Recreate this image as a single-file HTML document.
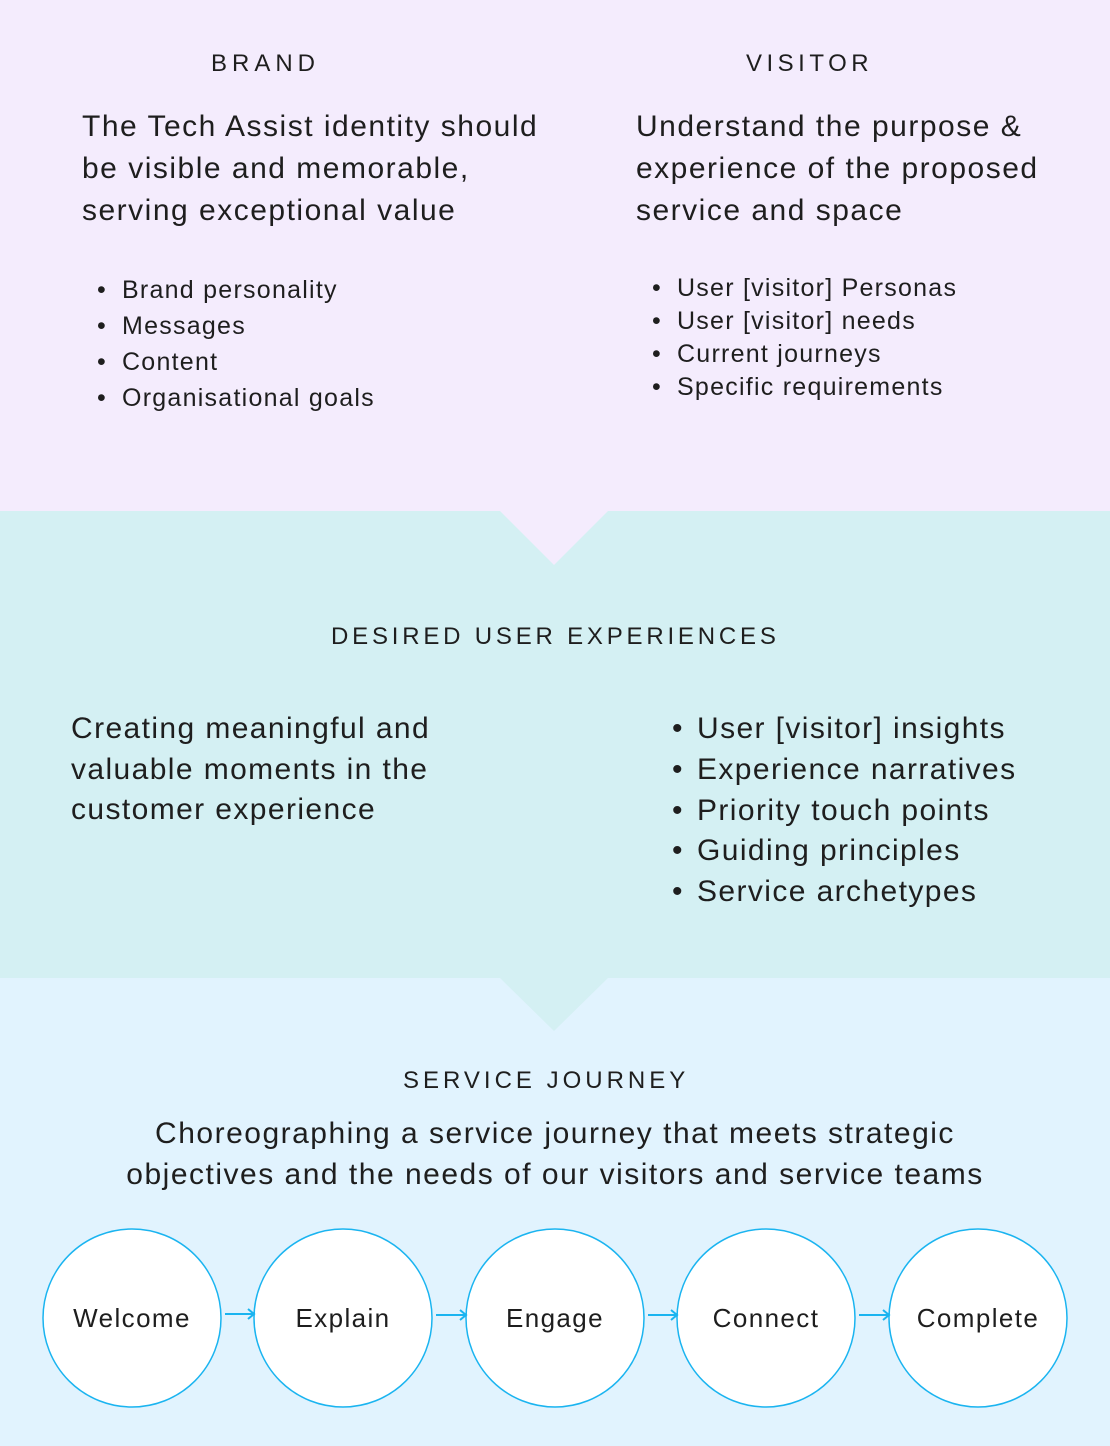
<!DOCTYPE html>
<html><head><style>
body{margin:0;width:1110px;height:1446px;position:relative;overflow:hidden;font-family:"Liberation Sans",sans-serif;color:#1e1e1e}
.a{position:absolute;white-space:nowrap}
.h{font-size:24px;letter-spacing:4px}
ul{margin:0;padding:0;list-style:none}
li:before{content:"•";position:absolute;margin-left:-25px}
</style></head><body>
<div class="a" style="left:0;top:0;width:1110px;height:512px;background:#f4ecfd"></div>
<div class="a" style="left:0;top:511px;width:1110px;height:467px;background:#d4f0f3"></div>
<div class="a" style="left:0;top:978px;width:1110px;height:468px;background:#e1f3fe"></div>
<svg class="a" style="left:0;top:0" width="1110" height="1446">
<polygon points="499,510 609,510 554,565" fill="#f4ecfd"/>
<polygon points="499,977 609,977 554,1031" fill="#d4f0f3"/>
<g fill="#fff" stroke="#1ab4f0" stroke-width="1.5">
<circle cx="132" cy="1318" r="89"/><circle cx="343" cy="1318" r="89"/><circle cx="555" cy="1318" r="89"/><circle cx="766" cy="1318" r="89"/><circle cx="978" cy="1318" r="89"/>
</g>
<g stroke="#1ab4f0" stroke-width="2" fill="none">
<path d="M225 1314H254M248 1309L254 1314L248 1319"/>
<path d="M436 1315H466M460 1310L466 1315L460 1320"/>
<path d="M648 1315H677M671 1310L677 1315L671 1320"/>
<path d="M859 1315H889M883 1310L889 1315L883 1320"/>
</g>
<g font-family="Liberation Sans" font-size="26" fill="#1e1e1e" text-anchor="middle" letter-spacing="1.4">
<text x="132" y="1327">Welcome</text><text x="343" y="1327">Explain</text><text x="555" y="1327">Engage</text><text x="766" y="1327">Connect</text><text x="978" y="1327">Complete</text>
</g>
</svg>
<div class="a h" style="left:211px;top:50px;letter-spacing:5px">BRAND</div>
<div class="a h" style="left:746px;top:50px;letter-spacing:4.5px">VISITOR</div>
<div class="a" style="left:82px;top:106px;font-size:30px;line-height:42px;letter-spacing:1.5px">The Tech Assist identity should<br>be visible and memorable,<br>serving exceptional value</div>
<div class="a" style="left:636px;top:106px;font-size:30px;line-height:42px;letter-spacing:1.5px">Understand the purpose &amp;<br>experience of the proposed<br>service and space</div>
<ul class="a" style="left:122px;top:272px;font-size:25px;line-height:36px;letter-spacing:1.25px"><li>Brand personality</li><li>Messages</li><li>Content</li><li>Organisational goals</li></ul>
<ul class="a" style="left:677px;top:272px;font-size:25px;line-height:33px;letter-spacing:1.25px"><li>User [visitor] Personas</li><li>User [visitor] needs</li><li>Current journeys</li><li>Specific requirements</li></ul>
<div class="a h" style="left:331px;top:623px;letter-spacing:3.8px">DESIRED USER EXPERIENCES</div>
<div class="a" style="left:71px;top:709px;font-size:30px;line-height:40.5px;letter-spacing:1.4px">Creating meaningful and<br>valuable moments in the<br>customer experience</div>
<ul class="a" style="left:697px;top:709px;font-size:30px;line-height:40.8px;letter-spacing:1.4px"><li>User [visitor] insights</li><li>Experience narratives</li><li>Priority touch points</li><li>Guiding principles</li><li>Service archetypes</li></ul>
<div class="a h" style="left:403px;top:1067px;letter-spacing:4px">SERVICE JOURNEY</div>
<div class="a" style="left:0;width:1110px;top:1114px;font-size:30px;line-height:40.5px;text-align:center;letter-spacing:1.5px">Choreographing a service journey that meets strategic<br>objectives and the needs of our visitors and service teams</div>
</body></html>
